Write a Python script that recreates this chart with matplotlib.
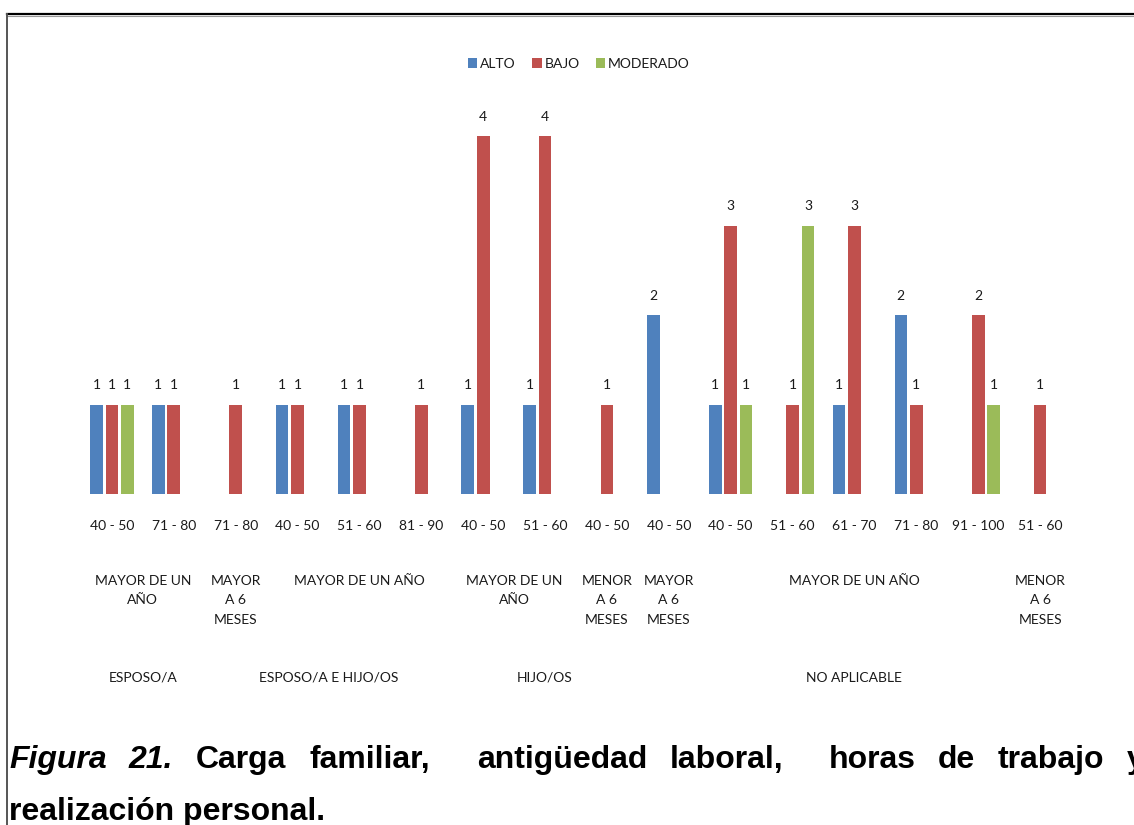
import matplotlib
matplotlib.use("Agg")
import matplotlib.pyplot as plt
import matplotlib.transforms as mtransforms
from matplotlib.patches import Patch
from matplotlib.lines import Line2D
import numpy as np

# Hours-of-work ranges (first level of the category axis)
horas = ["40 - 50", "71 - 80", "71 - 80", "40 - 50", "51 - 60", "81 - 90",
         "40 - 50", "51 - 60", "40 - 50", "40 - 50", "40 - 50", "51 - 60",
         "61 - 70", "71 - 80", "91 - 100", "51 - 60"]

# Seniority groups (second level): label, first index, last index
antiguedad = [("MAYOR DE UN\nAÑO", 0, 1), ("MAYOR\nA 6\nMESES", 2, 2),
              ("MAYOR DE UN AÑO", 3, 5), ("MAYOR DE UN\nAÑO", 6, 7),
              ("MENOR\nA 6\nMESES", 8, 8), ("MAYOR\nA 6\nMESES", 9, 9),
              ("MAYOR DE UN AÑO", 10, 14), ("MENOR\nA 6\nMESES", 15, 15)]

# Family load groups (third level): label, first index, last index
carga = [("ESPOSO/A", 0, 1), ("ESPOSO/A E HIJO/OS", 2, 5),
         ("HIJO/OS", 6, 8), ("NO APLICABLE", 9, 15)]

# Series values (None = no bar)
alto     = [1, 1, None, 1, 1, None, 1, 1, None, 2, 1, None, 1, 2, None, None]
bajo     = [1, 1, 1, 1, 1, 1, 4, 4, 1, None, 3, 1, 3, 1, 2, 1]
moderado = [1, None, None, None, None, None, None, None, None, None, 1, 3, None, None, 1, None]

series = [("ALTO", alto, "#4F81BD"), ("BAJO", bajo, "#C0504D"),
          ("MODERADO", moderado, "#9BBB59")]

W, H = 1134, 825
fig = plt.figure(figsize=(W / 100, H / 100), dpi=100)
fig.patch.set_facecolor("white")

def fx(px):
    return px / W

def fy(py):
    return 1 - py / H

label_font = "Lato"
txt_color = "#1a1a1a"

ax = fig.add_axes([fx(81), fy(494), fx(1071) - fx(81), fy(91.25) - fy(494)])
ax.set_xlim(-0.5, len(horas) - 0.5)
ax.set_ylim(0, 4.5)
ax.axis("off")

x = np.arange(len(horas))
bw = 0.205
step = 0.25
for k, (name, vals, color) in enumerate(series):
    off = (k - 1) * step
    xs = [xi + off for xi, v in zip(x, vals) if v is not None]
    vs = [v for v in vals if v is not None]
    bars = ax.bar(xs, vs, width=bw, color=color, edgecolor="none")
    for b, v in zip(bars, vs):
        ax.annotate(str(v), (b.get_x() + b.get_width() / 2, v),
                    xytext=(0, 14), textcoords="offset points",
                    ha="center", va="center", fontsize=10,
                    family=label_font, color=txt_color)

# Category axis labels, positioned along x in data units
trans = mtransforms.blended_transform_factory(ax.transData, fig.transFigure)
for i, lab in enumerate(horas):
    fig.text(i, fy(526), lab, transform=trans, ha="center", va="center",
             fontsize=10, family=label_font, color=txt_color)
for lab, a, b in antiguedad:
    fig.text((a + b) / 2, fy(575), lab, transform=trans, ha="center",
             va="top", fontsize=10, family=label_font, color=txt_color,
             linespacing=1.75, multialignment="center")
for lab, a, b in carga:
    fig.text((a + b) / 2, fy(678), lab, transform=trans, ha="center",
             va="center", fontsize=10, family=label_font, color=txt_color)

# Legend
handles = [Patch(facecolor=c, edgecolor="none", label=n) for n, _, c in series]
leg = fig.legend(handles=handles, loc="center", bbox_to_anchor=(fx(579), fy(64)),
                 ncol=3, frameon=False, handlelength=0.65, handleheight=0.65,
                 handletextpad=0.2, columnspacing=1.2,
                 prop={"family": label_font, "size": 10})
for t in leg.get_texts():
    t.set_color(txt_color)

# Chart frame
fig.add_artist(Line2D([fx(7), fx(W)], [fy(14), fy(14)], color="black",
                      lw=1.6, transform=fig.transFigure))
fig.add_artist(Line2D([fx(7), fx(W)], [fy(15.8), fy(15.8)], color="#999999",
                      lw=0.8, transform=fig.transFigure))
fig.add_artist(Line2D([fx(7), fx(7)], [fy(14), fy(H)], color="#555555",
                      lw=1.4, transform=fig.transFigure))

# Figure caption: first line is justified, so each word gets its own start
cap_font = "Liberation Sans"
cap_size = 23
line1 = [("Figura", 9, True), ("21.", 129, True), ("Carga", 196, False),
         ("familiar,", 309, False), ("antigüedad", 477, False),
         ("laboral,", 670, False), ("horas", 829, False), ("de", 938, False),
         ("trabajo", 998, False), ("y", 1127, False)]
for word, px, ital in line1:
    fig.text(fx(px), fy(768), word, ha="left", va="baseline",
             fontsize=cap_size, family=cap_font, weight="bold",
             style="italic" if ital else "normal", color="black")
fig.text(fx(9), fy(820), "realización personal.", ha="left", va="baseline",
         fontsize=cap_size, family=cap_font, weight="bold", color="black")

fig.savefig("out.png", dpi=100, facecolor="white")
